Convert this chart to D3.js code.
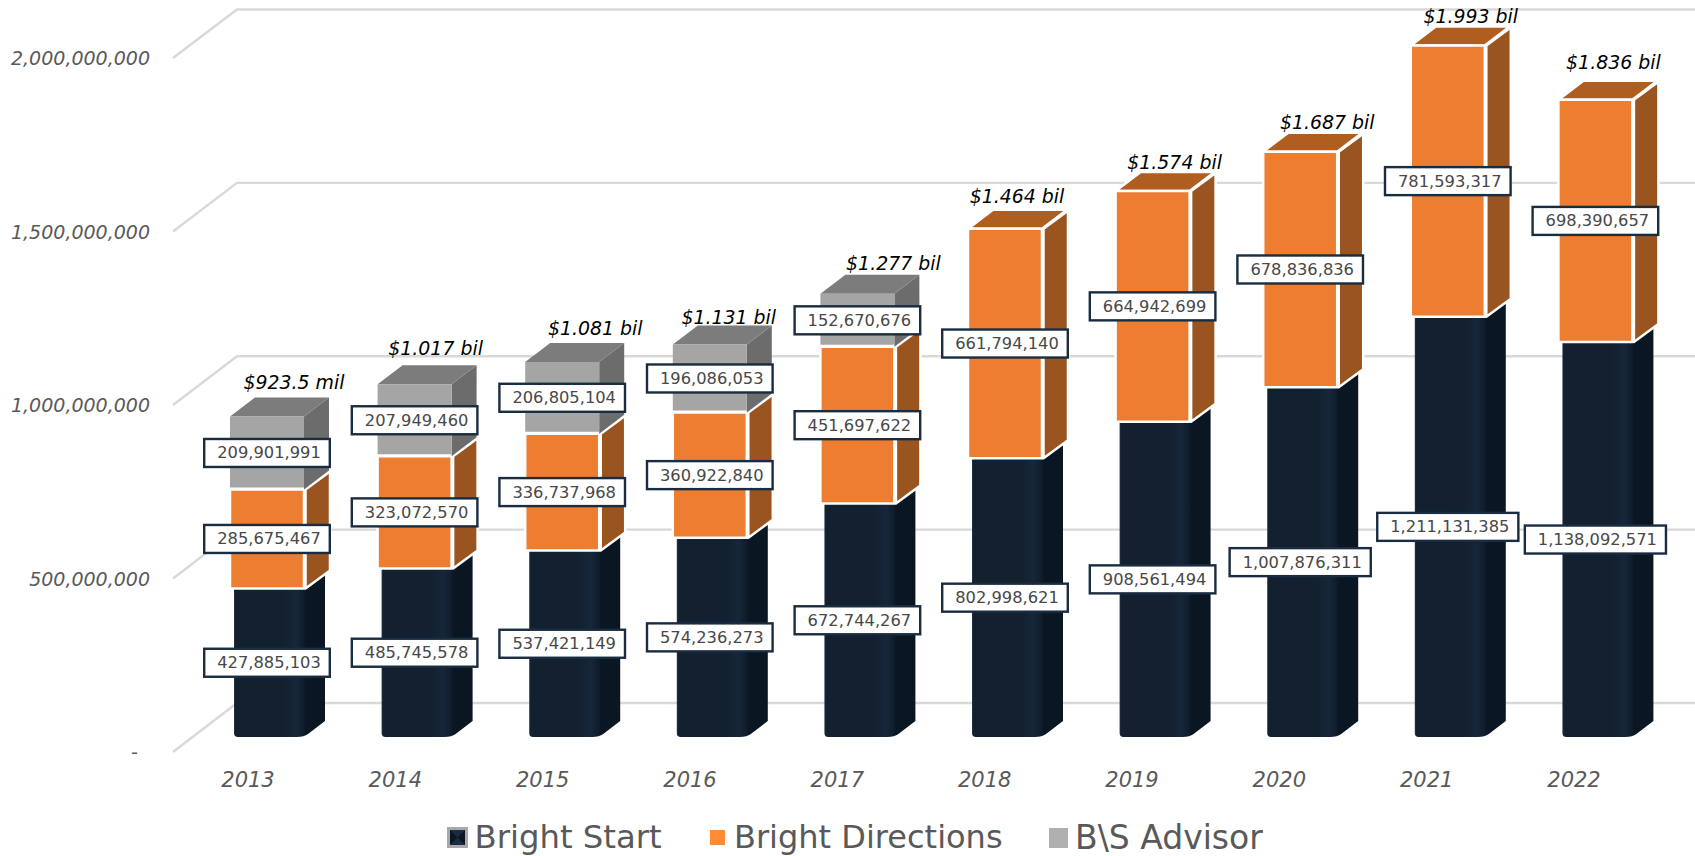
<!DOCTYPE html>
<html><head><meta charset="utf-8">
<script src="https://cdnjs.cloudflare.com/ajax/libs/d3/7.8.5/d3.min.js"></script>
<style>html,body{margin:0;padding:0;background:#fff;overflow:hidden}svg{display:block}text{font-family:"DejaVu Sans",sans-serif}</style>
</head><body><svg id="c" width="1695" height="856"></svg>
<script>
const years=["2013","2014","2015","2016","2017","2018","2019","2020","2021","2022"];
const brightStart=[427885103,485745578,537421149,574236273,672744267,802998621,908561494,1007876311,1211131385,1138092571];
const brightDirections=[285675467,323072570,336737968,360922840,451697622,661794140,664942699,678836836,781593317,698390657];
const bsAdvisor=[209901991,207949460,206805104,196086053,152670676,0,0,0,0,0];
const totalLabels=["$923.5 mil","$1.017 bil","$1.081 bil","$1.131 bil","$1.277 bil","$1.464 bil","$1.574 bil","$1.687 bil","$1.993 bil","$1.836 bil"];
const seriesNames=["Bright Start","Bright Directions","B\\S Advisor"];
const yTicks=[0,500000000,1000000000,1500000000,2000000000];
// manual label placement in the original chart
const totalDx=[27,21,33,19,36,12,22,27,23,18];
const totalDy=[-14,-16,-13,-7,-10,-12,-8,-9,-9,-17];

const svg=d3.select("#c");
const defs=svg.append("defs");
const g=defs.append("linearGradient").attr("id","navy");
[[0,"#2a3644"],[0.015,"#132030"],[0.55,"#13202f"],[0.68,"#16273a"],[0.76,"#101d2c"],[0.79,"#0a1622"],[1,"#0a1622"]].forEach(([o,c])=>g.append("stop").attr("offset",o).attr("stop-color",c));

const x=d3.scalePoint().domain(years).range([267,1595.4]);
const xYear=d3.scalePoint().domain(years).range([248,1574]);
const y=d3.scaleLinear().domain([0,2000000000]).range([737,43]);
const yFront=d3.scaleLinear().domain([0,2000000000]).range([752,58]);
const yBack=d3.scaleLinear().domain([0,2000000000]).range([703,9.5]);
const hw=37, dx=25, dy=-19;

// grid
const grid=svg.append("g");
yTicks.forEach(t=>{
  grid.append("path").attr("d",d3.line()([[173,yFront(t)],[237,yBack(t)],[1695,yBack(t)]]))
    .attr("fill","none").attr("stroke","#d9d9d9").attr("stroke-width",2.4);
  svg.append("text").attr("x",150).attr("y",yFront(t)+1.5).attr("text-anchor","end").attr("dominant-baseline","middle")
    .attr("font-size",19).attr("font-style","italic").attr("fill","#595959")
    .text(t===0?"-\u00A0\u00A0":d3.format(",")(t));
});

const bars=svg.append("g");
const poly=(pts,fill,stroke,sw)=>bars.append("polygon").attr("points",pts.map(p=>p.join(",")).join(" ")).attr("fill",fill)
   .attr("stroke",stroke||"none").attr("stroke-width",sw||0).attr("stroke-linejoin","round");
years.forEach((yr,i)=>{
  const c=x(yr);
  const s0=y(0), s1=y(brightStart[i]), s2=y(brightStart[i]+brightDirections[i]), s3=y(brightStart[i]+brightDirections[i]+bsAdvisor[i]);
  // navy cylinder-like column
  const l=c-33, r=c+58, fr=c+38;
  const p=d3.path();
  p.moveTo(l,s1); p.lineTo(fr,s1); p.lineTo(r,s1-15); p.lineTo(r,s0-16); p.lineTo(fr+3,s0-3);
  p.quadraticCurveTo(fr-1,s0,fr-8,s0);
  p.lineTo(l+4,s0); p.quadraticCurveTo(l,s0,l,s0-4); p.closePath();
  bars.append("path").attr("d",p.toString()).attr("fill","url(#navy)");
  // orange
  poly([[c+hw+1.5,s1],[c+hw+dx+1,s1+dy+1],[c+hw+dx+1,s2+dy+1],[c+hw+1.5,s2]],"#9a5420","#fff",2.5);
  if(!bsAdvisor[i]) poly([[c-hw,s2],[c-hw+dx,s2+dy],[c+hw+dx,s2+dy],[c+hw,s2]],"#b05e20","#fff",2.5);
  poly([[c-hw,s1],[c+hw,s1],[c+hw,s2],[c-hw,s2]],"#ed7d31","#fff",2.5);
  // gray
  if(bsAdvisor[i]){
    poly([[c+hw,s2],[c+hw+dx,s2+dy],[c+hw+dx,s3+dy],[c+hw,s3]],"#6c6c6c");
    poly([[c-hw,s3],[c-hw+dx,s3+dy],[c+hw+dx,s3+dy],[c+hw,s3]],"#7c7c7c");
    poly([[c-hw,s2-2],[c+hw,s2-2],[c+hw,s3],[c-hw,s3]],"#a5a5a5");
  }
});

// value labels
const labels=svg.append("g");
function box(cx,cy,v){
  const gg=labels.append("g");
  const rect=gg.append("rect");
  const t=gg.append("text").attr("x",cx+2).attr("y",cy+1).attr("text-anchor","middle").attr("dominant-baseline","middle")
    .attr("font-size",16.3).attr("fill","#484848").text(d3.format(",")(v));
  const w=t.node().getComputedTextLength()+22;
  rect.attr("x",cx-w/2).attr("y",cy-14).attr("width",w).attr("height",28).attr("fill","#fff").attr("stroke","#1a2c40").attr("stroke-width",2.4);
}
years.forEach((yr,i)=>{
  const c=x(yr);
  let b=0;
  [brightStart,brightDirections,bsAdvisor].forEach(s=>{
    if(s[i]){box(c,(y(b)+y(b+s[i]))/2,s[i]);b+=s[i];}
  });
  svg.append("text").attr("x",c+totalDx[i]).attr("y",y(b)+dy+totalDy[i]).attr("text-anchor","middle").attr("dominant-baseline","middle")
    .attr("font-size",18.9).attr("font-style","italic").attr("fill","#000").text(totalLabels[i]);
  svg.append("text").attr("x",xYear(yr)).attr("y",781).attr("text-anchor","middle").attr("dominant-baseline","middle")
    .attr("font-size",21).attr("font-style","italic").attr("fill","#595959").text(yr);
});

// legend
const lg=svg.append("g");
const lgText=[474.5,734,1075];
const lgSize=[32.3,32,33];
seriesNames.forEach((n,i)=>lg.append("text").attr("x",lgText[i]).attr("y",839).attr("dominant-baseline","middle")
  .attr("font-size",lgSize[i]).attr("fill","#595959").text(n));
lg.append("rect").attr("x",447).attr("y",827).attr("width",21).attr("height",21).attr("fill","#a9a9a9");
lg.append("rect").attr("x",450).attr("y",830).attr("width",15).attr("height",15).attr("fill","#1a2c44");
lg.append("polygon").attr("points","450,830 457.5,837.5 450,845").attr("fill","#0c1622");
lg.append("polygon").attr("points","465,830 457.5,837.5 465,845").attr("fill","#0c1622");
lg.append("rect").attr("x",710).attr("y",830).attr("width",15).attr("height",15).attr("fill","#ff8b33");
lg.append("rect").attr("x",1049).attr("y",828).attr("width",19).attr("height",20).attr("fill","#b0b0b0");
</script></body></html>
